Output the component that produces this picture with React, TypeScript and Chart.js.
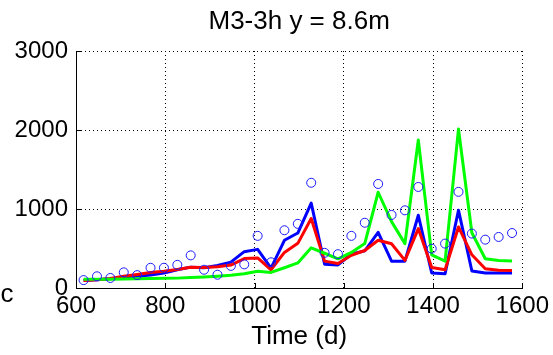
import React, { useEffect, useRef } from "react";
import { Chart, registerables } from "chart.js";

Chart.register(...registerables);

const timeDays = [617, 647, 677, 707, 737, 767, 797, 827, 857, 887, 917, 947, 977, 1007, 1037, 1067, 1097, 1127, 1157, 1187, 1217, 1247, 1277, 1307, 1337, 1367, 1397, 1427, 1457, 1487, 1517, 1547, 1577];

const observed = [100, 148, 127, 198, 163, 256, 256, 293, 413, 231, 168, 280, 299, 660, 325, 731, 812, 1332, 445, 428, 660, 826, 1317, 925, 983, 1279, 498, 562, 1217, 689, 612, 646, 696];

const blueSeries = [95, 105, 118, 135, 150, 165, 190, 230, 264, 256, 286, 328, 460, 489, 252, 604, 696, 1075, 300, 292, 430, 470, 705, 340, 340, 921, 190, 180, 985, 215, 190, 190, 190];

const redSeries = [95, 105, 120, 150, 172, 195, 212, 235, 262, 258, 270, 290, 372, 380, 231, 450, 565, 880, 340, 310, 415, 475, 605, 560, 350, 752, 260, 231, 773, 420, 244, 226, 222];

const greenSeries = [110, 110, 112, 115, 117, 120, 122, 125, 133, 140, 150, 160, 180, 212, 197, 256, 318, 508, 440, 370, 450, 562, 1212, 840, 562, 1874, 420, 340, 2012, 700, 371, 349, 341];

const xTicks = [600, 800, 1000, 1200, 1400, 1600];
const yTicks = [0, 1000, 2000, 3000];

const titleText = "M3-3h y = 8.6m";
const xLabelText = "Time (d)";
const edgeText = "c";

const FONT = "'Liberation Sans', Arial, Helvetica, sans-serif";

const pts = (vals: number[]) => timeDays.map((t, i) => ({ x: t, y: vals[i] }));

const decorPlugin = {
  id: "decor",
  afterDraw(chart: any) {
    const { ctx, chartArea, scales } = chart;
    const xs = scales.x;
    const ys = scales.y;
    ctx.save();
    ctx.strokeStyle = "#000";
    ctx.lineWidth = 1;
    ctx.beginPath();
    xTicks.forEach((v) => {
      const px = Math.round(xs.getPixelForValue(v)) + 0.5;
      ctx.moveTo(px, chartArea.bottom);
      ctx.lineTo(px, chartArea.bottom - 5);
    });
    yTicks.forEach((v) => {
      const py = Math.round(ys.getPixelForValue(v)) + 0.5;
      ctx.moveTo(chartArea.left, py);
      ctx.lineTo(chartArea.left + 5, py);
    });
    ctx.stroke();
    ctx.fillStyle = "#000";
    ctx.textAlign = "center";
    ctx.textBaseline = "middle";
    ctx.font = `26px ${FONT}`;
    ctx.fillText(titleText, (chartArea.left + chartArea.right) / 2, 22);
    ctx.fillText(xLabelText, (chartArea.left + chartArea.right) / 2, 337);
    ctx.fillText(edgeText, 7, 295);
    ctx.restore();
  },
};

export default function App() {
  const ref = useRef<HTMLCanvasElement | null>(null);

  useEffect(() => {
    if (!ref.current) return;
    const lineCommon = {
      borderWidth: 3,
      pointRadius: 0,
      tension: 0,
      borderJoinStyle: "round" as const,
    };
    const chart = new Chart(ref.current, {
      type: "line",
      data: {
        datasets: [
          {
            label: "Observed",
            data: pts(observed),
            showLine: false,
            borderColor: "#0000ff",
            backgroundColor: "rgba(0,0,0,0)",
            pointRadius: 4.5,
            pointBorderWidth: 1,
            pointBorderColor: "#1a1aff",
            pointBackgroundColor: "rgba(0,0,0,0)",
            order: 0,
          },
          { label: "Green", data: pts(greenSeries), borderColor: "#00ff00", order: 1, ...lineCommon },
          { label: "Red", data: pts(redSeries), borderColor: "#ff0000", order: 2, ...lineCommon },
          { label: "Blue", data: pts(blueSeries), borderColor: "#0000ff", order: 3, ...lineCommon },
        ],
      },
      options: {
        animation: false,
        responsive: false,
        events: [],
        layout: { padding: { top: 51, right: 28, left: 0, bottom: 0 } },
        plugins: {
          legend: { display: false },
          title: { display: false },
          tooltip: { enabled: false },
        },
        scales: {
          x: {
            type: "linear",
            min: 600,
            max: 1600,
            afterFit: (s: any) => {
              s.height = 67;
            },
            afterBuildTicks: (s: any) => {
              s.ticks = xTicks.map((v) => ({ value: v }));
            },
            grid: { color: "#000", lineWidth: 1, drawTicks: false },
            border: { display: true, color: "#000", width: 1, dash: [1, 3] },
            ticks: {
              color: "#000",
              font: { family: FONT, size: 24 },
              padding: 4,
              maxRotation: 0,
              autoSkip: false,
              callback: (v: any) => String(v),
            },
          },
          y: {
            type: "linear",
            min: 0,
            max: 3000,
            afterFit: (s: any) => {
              s.width = 76;
            },
            afterBuildTicks: (s: any) => {
              s.ticks = yTicks.map((v) => ({ value: v }));
            },
            grid: { color: "#000", lineWidth: 1, drawTicks: false },
            border: { display: true, color: "#000", width: 1, dash: [1, 3] },
            ticks: {
              color: "#000",
              font: { family: FONT, size: 24 },
              padding: 8,
              autoSkip: false,
              callback: (v: any) => String(v),
            },
          },
        },
      },
      plugins: [decorPlugin],
    });
    return () => chart.destroy();
  }, []);

  return (
    <div style={{ position: "fixed", left: 0, top: 0, width: 553, height: 355, background: "#fff" }}>
      <canvas ref={ref} width={553} height={355} style={{ width: 553, height: 355, display: "block" }} />
    </div>
  );
}
